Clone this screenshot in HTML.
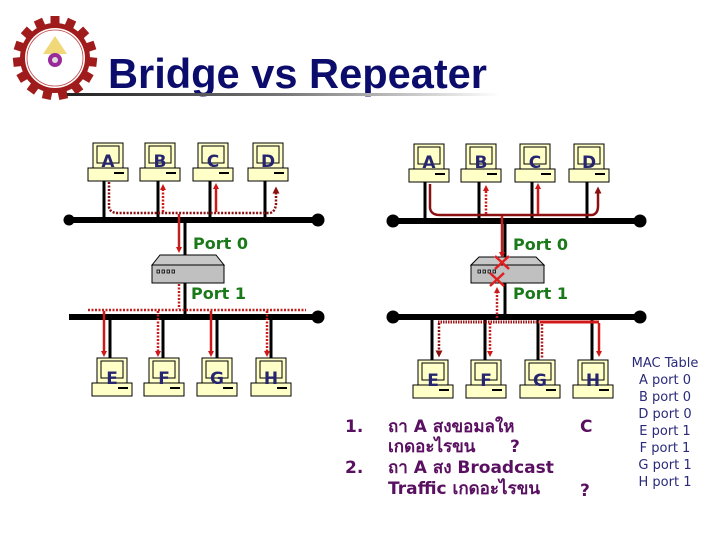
<!DOCTYPE html>
<html><head><meta charset="utf-8"><style>
html,body{margin:0;padding:0;background:#fff}
svg{display:block}
</style></head><body>
<svg width="720" height="540" viewBox="0 0 720 540" xmlns="http://www.w3.org/2000/svg">
<defs>
<linearGradient id="ul" x1="0" x2="1" y1="0" y2="0">
<stop offset="0" stop-color="#222"/><stop offset="0.5" stop-color="#777"/><stop offset="1" stop-color="#fff"/>
</linearGradient>
<g id="pc">
<rect x="5" y="0" width="30" height="25" fill="#ffffc8" stroke="#000" stroke-width="1"/>
<rect x="9" y="3" width="22" height="17" fill="#ffffc8" stroke="#000" stroke-width="1"/>
<rect x="0" y="25" width="40" height="13" fill="#ffffc8" stroke="#000" stroke-width="1"/>
<rect x="26" y="29" width="10" height="2" fill="#000"/>
</g>
<marker id="ar" markerWidth="6" markerHeight="6" refX="3" refY="3" orient="auto" markerUnits="userSpaceOnUse"><path d="M0,0 L6,3 L0,6 z" fill="#d01818"/></marker>
<marker id="ard" markerWidth="7" markerHeight="7" refX="3.5" refY="3.5" orient="auto" markerUnits="userSpaceOnUse"><path d="M0,0 L7,3.5 L0,7 z" fill="#8b1010"/></marker>
</defs>

<!-- logo -->
<g transform="translate(55,58)">
<g fill="#a01c1c">
<rect x="-4.5" y="-42" width="9" height="10" transform="rotate(0)"/>
<rect x="-4.5" y="-42" width="9" height="10" transform="rotate(24)"/>
<rect x="-4.5" y="-42" width="9" height="10" transform="rotate(48)"/>
<rect x="-4.5" y="-42" width="9" height="10" transform="rotate(72)"/>
<rect x="-4.5" y="-42" width="9" height="10" transform="rotate(96)"/>
<rect x="-4.5" y="-42" width="9" height="10" transform="rotate(120)"/>
<rect x="-4.5" y="-42" width="9" height="10" transform="rotate(144)"/>
<rect x="-4.5" y="-42" width="9" height="10" transform="rotate(168)"/>
<rect x="-4.5" y="-42" width="9" height="10" transform="rotate(192)"/>
<rect x="-4.5" y="-42" width="9" height="10" transform="rotate(216)"/>
<rect x="-4.5" y="-42" width="9" height="10" transform="rotate(240)"/>
<rect x="-4.5" y="-42" width="9" height="10" transform="rotate(264)"/>
<rect x="-4.5" y="-42" width="9" height="10" transform="rotate(288)"/>
<rect x="-4.5" y="-42" width="9" height="10" transform="rotate(312)"/>
<rect x="-4.5" y="-42" width="9" height="10" transform="rotate(336)"/>
</g>
<circle r="35" fill="#a01c1c"/>
<circle r="30" fill="#fff"/>
<circle r="28" fill="none" stroke="#c04040" stroke-width="0.8"/>
<path d="M-12,-4 L0,-22 L12,-4 z" fill="#f0d878"/>
<circle r="7" cy="2" fill="#9a2a9a"/>
<circle r="3" cy="2" fill="#ddd"/>
</g>

<!-- title -->
<text x="108" y="88" font-family="Liberation Sans, sans-serif" font-weight="bold" font-size="42" fill="#0c0c6c" textLength="379" lengthAdjust="spacingAndGlyphs">Bridge vs Repeater</text>
<rect x="67" y="93" width="433" height="3" fill="url(#ul)"/>

<g stroke="#000" stroke-width="3">
<line x1="104" y1="180" x2="104" y2="220"/><line x1="158" y1="180" x2="158" y2="220"/>
<line x1="210" y1="180" x2="210" y2="220"/><line x1="265" y1="180" x2="265" y2="220"/>
<line x1="185" y1="220" x2="185" y2="258"/><line x1="185" y1="283" x2="185" y2="317"/>
<line x1="110" y1="317" x2="110" y2="358"/><line x1="163" y1="317" x2="163" y2="358"/>
<line x1="217" y1="317" x2="217" y2="358"/><line x1="271" y1="317" x2="271" y2="358"/>
<line x1="425" y1="182" x2="425" y2="221"/><line x1="479" y1="182" x2="479" y2="221"/>
<line x1="532" y1="182" x2="532" y2="221"/><line x1="587" y1="182" x2="587" y2="221"/>
<line x1="505" y1="221" x2="505" y2="258"/><line x1="505" y1="283" x2="505" y2="317"/>
<line x1="432" y1="317" x2="432" y2="360"/><line x1="485" y1="317" x2="485" y2="360"/>
<line x1="538" y1="317" x2="538" y2="360"/><line x1="592" y1="317" x2="592" y2="360"/>
</g>
<g fill="#000">
<rect x="69" y="217" width="249" height="6"/><circle cx="69" cy="220" r="5.5"/><circle cx="318" cy="220" r="6.5"/>
<rect x="69" y="314" width="249" height="6"/><circle cx="318" cy="317" r="6.5"/>
<rect x="393" y="218" width="247" height="6"/><circle cx="393" cy="221" r="6.5"/><circle cx="640" cy="221" r="6.5"/>
<rect x="393" y="314" width="247" height="6"/><circle cx="393" cy="317" r="6.5"/><circle cx="640" cy="317" r="6.5"/>
</g>

<g stroke="#000" stroke-width="1">
<path d="M152,265 L160,255 L216,255 L224,265 z" fill="#c8c8c8"/>
<rect x="152" y="265" width="72" height="18" fill="#c0c0c0"/>
<path d="M471,265 L479,257 L536,257 L544,265 z" fill="#c8c8c8"/>
<rect x="471" y="265" width="73" height="18" fill="#c0c0c0"/>
</g>
<g fill="none" stroke="#000" stroke-width="0.8">
<rect x="157" y="270" width="2.5" height="3"/><rect x="162" y="270" width="2.5" height="3"/><rect x="167" y="270" width="2.5" height="3"/><rect x="172" y="270" width="2.5" height="3"/>
<rect x="478" y="270" width="2.5" height="3"/><rect x="483" y="270" width="2.5" height="3"/><rect x="488" y="270" width="2.5" height="3"/><rect x="493" y="270" width="2.5" height="3"/>
</g>

<use href="#pc" x="88" y="143"/><use href="#pc" x="140" y="143"/><use href="#pc" x="193" y="143"/><use href="#pc" x="248" y="143"/>
<use href="#pc" x="92" y="358"/><use href="#pc" x="144" y="358"/><use href="#pc" x="197" y="358"/><use href="#pc" x="251" y="358"/>
<use href="#pc" x="409" y="144"/><use href="#pc" x="461" y="144"/><use href="#pc" x="515" y="144"/><use href="#pc" x="569" y="144"/>
<use href="#pc" x="413" y="360"/><use href="#pc" x="466" y="360"/><use href="#pc" x="520" y="360"/><use href="#pc" x="573" y="360"/>

<g font-family="DejaVu Sans, sans-serif" font-weight="bold" font-size="17" fill="#262670" text-anchor="middle">
<text x="108" y="167">A</text><text x="160" y="167">B</text><text x="213" y="167">C</text><text x="268" y="167">D</text>
<text x="112" y="384">E</text><text x="164" y="384">F</text><text x="217" y="384">G</text><text x="271" y="384">H</text>
<text x="429" y="168">A</text><text x="481" y="168">B</text><text x="535" y="168">C</text><text x="589" y="168">D</text>
<text x="433" y="386">E</text><text x="486" y="386">F</text><text x="540" y="386">G</text><text x="593" y="386">H</text>
</g>

<g fill="none" stroke-width="2.5">
<path d="M109,182 L109,207 Q110,213 118,213 L270,213 Q275,212 276,204 L276,190" stroke="#8b1010" stroke-dasharray="2,1.5" marker-end="url(#ard)"/>
<line x1="163" y1="212" x2="163" y2="187" stroke="#d01818" stroke-dasharray="2,1.5" marker-end="url(#ar)"/>
<line x1="216" y1="212" x2="216" y2="186" stroke="#d01818" marker-end="url(#ar)"/>
<line x1="179" y1="214" x2="179" y2="250" stroke="#c02020" marker-end="url(#ar)"/>
<line x1="179" y1="284" x2="179" y2="309" stroke="#c02020" stroke-dasharray="2,1.5"/>
<line x1="88" y1="310" x2="306" y2="310" stroke="#c02020" stroke-dasharray="2,1.5"/>
<line x1="104" y1="311" x2="104" y2="354" stroke="#d01818" marker-end="url(#ar)"/>
<line x1="158" y1="311" x2="158" y2="354" stroke="#d01818" stroke-dasharray="2,1.5" marker-end="url(#ar)"/>
<line x1="211" y1="311" x2="211" y2="354" stroke="#d01818" marker-end="url(#ar)"/>
<line x1="267" y1="311" x2="267" y2="354" stroke="#d01818" stroke-dasharray="2,1.5" marker-end="url(#ar)"/>
</g>

<g fill="none" stroke-width="2.5">
<path d="M430,184 L430,208 Q431,215 440,215 L592,215 Q598,214 598,206 L598,190" stroke="#8b1010" marker-end="url(#ard)"/>
<line x1="486" y1="214" x2="486" y2="188" stroke="#d01818" stroke-dasharray="2,1.5" marker-end="url(#ar)"/>
<line x1="538" y1="214" x2="538" y2="186" stroke="#d01818" marker-end="url(#ar)"/>
<line x1="502" y1="216" x2="502" y2="255" stroke="#c02020" marker-end="url(#ar)"/>
<line x1="497" y1="318" x2="497" y2="290" stroke="#c02020" stroke-dasharray="2,1.5" marker-end="url(#ar)"/>
<line x1="438" y1="322" x2="540" y2="322" stroke="#a01818" stroke-width="3" stroke-dasharray="1.5,1"/>
<line x1="540" y1="322" x2="599" y2="322" stroke="#d01818" stroke-width="3"/>
<line x1="439" y1="323" x2="439" y2="354" stroke="#8b1010" stroke-dasharray="2,1.5" marker-end="url(#ard)"/>
<line x1="490" y1="323" x2="490" y2="354" stroke="#d01818" stroke-dasharray="2,1.5" marker-end="url(#ar)"/>
<line x1="599" y1="323" x2="599" y2="354" stroke="#d01818" marker-end="url(#ar)"/>
<line x1="542" y1="324" x2="542" y2="358" stroke="#b02020" stroke-dasharray="2,1.5"/>
<g stroke="#e02020" stroke-width="2.5">
<line x1="495" y1="256" x2="509" y2="269"/><line x1="509" y1="256" x2="495" y2="269"/>
<line x1="490" y1="273" x2="504" y2="286"/><line x1="504" y1="273" x2="490" y2="286"/>
</g>
</g>

<g font-family="DejaVu Sans, sans-serif" font-weight="bold" font-size="16" fill="#1a7a1a">
<text x="193" y="249">Port 0</text><text x="191" y="299">Port 1</text>
<text x="513" y="250">Port 0</text><text x="513" y="299">Port 1</text>
</g>

<g font-family="DejaVu Sans, sans-serif" font-size="13" fill="#2a2a7a" text-anchor="middle">
<text x="665" y="367">MAC Table</text>
<text x="665" y="384">A port 0</text><text x="665" y="401">B port 0</text><text x="665" y="418">D port 0</text>
<text x="665" y="435">E port 1</text><text x="665" y="452">F port 1</text><text x="665" y="469">G port 1</text>
<text x="665" y="486">H port 1</text>
</g>

<g font-family="DejaVu Sans, 'Noto Sans CJK SC', sans-serif" font-weight="bold" font-size="17" fill="#5a1060">
<text x="345" y="432">1.</text><text x="345" y="473">2.</text>
<text x="388" y="432">ถา  A สงขอมลให</text><text x="580" y="432">C</text>
<text x="388" y="452">เกดอะไรขน</text><text x="510" y="452">?</text>
<text x="388" y="473">ถา  A สง  Broadcast</text>
<text x="388" y="494">Traffic เกดอะไรขน</text><text x="580" y="496">?</text>
</g>
</svg>
</body></html>
